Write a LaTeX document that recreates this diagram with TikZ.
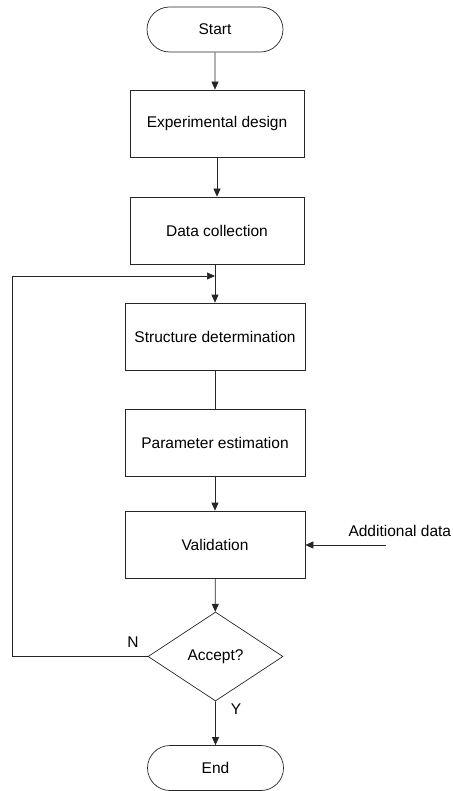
\documentclass[tikz,border=0pt]{standalone}
\usepackage{fontspec}
\setmainfont{Liberation Sans}
\usetikzlibrary{shapes.geometric,shapes.misc,arrows.meta}
\tikzset{
  flowbox/.style={draw=black!85, line width=0.7pt, minimum width=180pt, minimum height=67pt, inner sep=0pt},
  terminal/.style={draw=black!85, line width=0.7pt, rounded rectangle, minimum width=136pt, minimum height=45pt, inner sep=0pt},
  decision/.style={draw=black!85, line width=0.7pt, diamond, minimum width=135pt, minimum height=89pt, inner sep=0pt},
  flowarrow/.style={draw=black!85, line width=0.7pt, -{Triangle[width=7pt,length=8pt]}},
  flowline/.style={draw=black!85, line width=0.7pt}
}
\begin{document}
\begin{tikzpicture}[x=1pt,y=-1pt,font=\fontsize{15.5}{18}\selectfont]
        \useasboundingbox (0,0) rectangle (452,791);
        \node[terminal] (start) at (215, 29.5) {Start};
        \node[flowbox, minimum width=174pt] (design) at (217, 123.5) {Experimental design};
        \node[flowbox, minimum width=174pt] (collect) at (217, 230.5) {Data collection};
        \node[flowbox] (struct) at (215, 336.5) {Structure determination};
        \node[flowbox] (param) at (215, 442.5) {Parameter estimation};
        \node[flowbox] (valid) at (215, 544.5) {Validation};
        \node[decision] (accept) at (215.5, 656.5) {Accept?};
        \node[terminal] (end) at (215.5, 768) {End};
        \node[anchor=west] (extra) at (345, 531) {Additional data};
        \coordinate (extrain) at (386, 545);
        \coordinate (loop) at (215, 276);
        \node[] (no) at (133, 642) {N};
        \node[] (yes) at (236, 709) {Y};
        % main path
        \draw[flowarrow] (start) -- (start |- design.north);
        \draw[flowarrow] (design) -- (collect);
        \draw[flowarrow] (collect.south -| struct.north) -- (struct);
        \draw[flowline] (struct) -- (param);
        \draw[flowarrow] (param) -- (valid);
        \draw[flowarrow] (valid) -- (accept);
        \draw[flowarrow] (accept) -- (end);
        % side inputs
        \draw[flowarrow] (extrain) -- (extrain -| valid.east);
        \draw[flowarrow] (accept.west) -- (12, 656.5) |- (loop);
\end{tikzpicture}
\end{document}
